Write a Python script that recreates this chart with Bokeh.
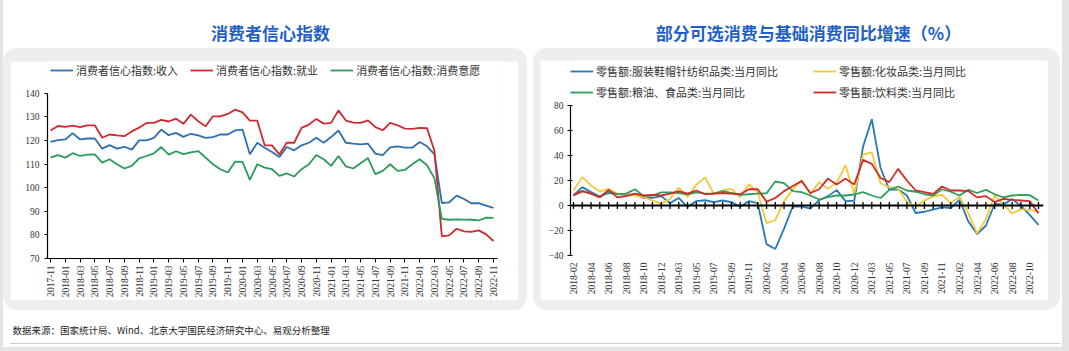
import math
from bokeh.plotting import figure
from bokeh.models import Range1d, Legend, LegendItem, Span, Spacer, FixedTicker
from bokeh.layouts import column, row
from bokeh.embed import file_html
from bokeh.resources import INLINE
from bokeh.core.properties import value

# ---------------- data: consumer confidence sub-indices ----------------
cc_months = ["2017-11", "2017-12",
             "2018-01", "2018-02", "2018-03", "2018-04", "2018-05", "2018-06",
             "2018-07", "2018-08", "2018-09", "2018-10", "2018-11", "2018-12",
             "2019-01", "2019-02", "2019-03", "2019-04", "2019-05", "2019-06",
             "2019-07", "2019-08", "2019-09", "2019-10", "2019-11", "2019-12",
             "2020-01", "2020-02", "2020-03", "2020-04", "2020-05", "2020-06",
             "2020-07", "2020-08", "2020-09", "2020-10", "2020-11", "2020-12",
             "2021-01", "2021-02", "2021-03", "2021-04", "2021-05", "2021-06",
             "2021-07", "2021-08", "2021-09", "2021-10", "2021-11", "2021-12",
             "2022-01", "2022-02", "2022-03", "2022-04", "2022-05", "2022-06",
             "2022-07", "2022-08", "2022-09", "2022-10", "2022-11"]
cc_income = [119.4, 120.1, 120.4, 123.1, 120.4, 120.8, 120.8, 116.5, 118.0, 116.5,
             117.3, 116.1, 120.0, 120.0, 121.1, 124.6, 122.2, 123.2, 121.5, 122.8,
             122.1, 121.1, 121.4, 122.5, 122.5, 124.2, 124.6, 114.1, 119.0, 116.9,
             115.1, 113.0, 117.2, 115.8, 117.9, 119.0, 121.1, 119.0, 121.4, 124.2,
             119.0, 118.6, 118.3, 118.6, 114.4, 113.8, 117.0, 117.5, 116.9, 116.9,
             119.3, 117.5, 114.1, 93.5, 93.8, 96.6, 95.2, 93.4, 93.4, 92.4, 91.4]
cc_employment = [124.2, 126.1, 125.7, 126.3, 125.6, 126.4, 126.4, 121.1, 122.5, 122.1,
                 121.8, 123.8, 125.4, 127.4, 127.4, 128.7, 128.0, 129.2, 127.0, 130.9,
                 128.1, 126.0, 130.2, 130.2, 131.2, 133.0, 131.9, 128.4, 128.4, 117.9,
                 117.9, 114.1, 119.0, 119.0, 125.3, 126.7, 129.1, 127.1, 127.4, 132.7,
                 128.4, 127.5, 127.4, 128.5, 125.6, 124.3, 127.4, 126.4, 125.0, 124.9,
                 125.3, 125.2, 115.5, 79.4, 79.8, 82.6, 81.5, 81.3, 81.9, 80.2, 77.4]
cc_willingness = [112.7, 113.8, 112.7, 114.6, 113.4, 114.0, 114.1, 110.6, 112.0, 109.9,
                  108.1, 109.2, 112.4, 113.4, 114.5, 117.2, 114.0, 115.4, 114.2, 114.9,
                  115.5, 112.7, 109.9, 107.8, 106.4, 111.0, 110.9, 103.3, 109.9, 108.5,
                  107.8, 105.0, 106.0, 104.7, 107.8, 109.9, 113.8, 112.0, 109.2, 113.4,
                  109.0, 108.1, 110.3, 112.5, 105.7, 107.1, 109.9, 107.1, 107.5, 109.9,
                  112.0, 109.5, 103.9, 86.8, 86.4, 86.6, 86.5, 86.4, 86.1, 87.3, 87.2]
cc_names = ["消费者信心指数:收入", "消费者信心指数:就业", "消费者信心指数:消费意愿"]
cc_yticks = [70, 80, 90, 100, 110, 120, 130, 140]

# ---------------- data: retail sales YoY (%) ----------------
rs_months = ["2018-02", "2018-03", "2018-04", "2018-05", "2018-06", "2018-07",
             "2018-08", "2018-09", "2018-10", "2018-11", "2018-12",
             "2019-02", "2019-03", "2019-04", "2019-05", "2019-06", "2019-07",
             "2019-08", "2019-09", "2019-10", "2019-11", "2019-12",
             "2020-02", "2020-03", "2020-04", "2020-05", "2020-06", "2020-07",
             "2020-08", "2020-09", "2020-10", "2020-11", "2020-12",
             "2021-02", "2021-03", "2021-04", "2021-05", "2021-06", "2021-07",
             "2021-08", "2021-09", "2021-10", "2021-11", "2021-12",
             "2022-02", "2022-03", "2022-04", "2022-05", "2022-06", "2022-07",
             "2022-08", "2022-09", "2022-10", "2022-11"]
rs_clothing = [8.0, 14.7, 10.7, 7.2, 10.0, 9.3, 8.5, 8.8, 6.1, 6.1, 7.5,
               1.9, 6.0, -1.1, 3.5, 4.2, 2.7, 4.0, 2.7, -1.0, 3.5, 1.8,
               -30.9, -34.8, -18.5, -0.6, -0.8, -2.5, 4.2, 7.5, 12.3, 3.5, 3.8,
               47.0, 69.0, 30.0, 12.5, 13.0, 8.0, -6.0, -5.0, -3.3, -1.5, -2.0,
               4.5, -12.7, -22.8, -16.2, 1.2, 0.8, 5.1, -0.3, -7.5, -15.6]
rs_cosmetics = [12.0, 22.7, 16.0, 11.2, 13.3, 9.3, 9.3, 8.0, 6.7, 4.0, 1.3,
                5.3, 14.4, 6.7, 16.7, 22.5, 9.3, 12.0, 13.3, 6.7, 17.0, 10.5,
                -14.1, -11.6, 3.5, 12.9, 20.3, 9.2, 18.7, 13.3, 18.3, 32.3, 9.2,
                40.7, 42.5, 17.8, 14.6, 13.5, 2.8, -0.6, 3.9, 7.3, 8.6, 1.9,
                7.0, -6.3, -22.3, -11.0, 8.1, 0.7, -6.4, -3.1, -3.7, -4.6]
rs_grain_food = [8.5, 11.5, 9.5, 7.0, 11.5, 9.0, 9.5, 13.0, 7.5, 8.0, 10.5,
                 10.5, 10.0, 9.0, 10.5, 9.5, 9.5, 11.5, 10.0, 8.5, 9.0, 9.5,
                 9.7, 19.2, 17.9, 11.5, 10.7, 8.0, 4.8, 6.7, 8.0, 8.0, 8.8,
                 10.7, 8.0, 6.0, 12.5, 15.2, 12.0, 11.0, 9.0, 8.0, 13.0, 11.0,
                 8.0, 12.5, 10.0, 12.5, 9.0, 6.5, 8.0, 8.5, 8.3, 4.0]
rs_beverage = [8.0, 11.5, 9.5, 6.5, 12.5, 6.5, 7.5, 9.5, 8.0, 8.5, 8.0,
               9.5, 11.5, 9.5, 12.0, 9.0, 9.5, 10.0, 9.5, 9.0, 13.0, 13.0,
               3.1, 6.0, 11.5, 15.6, 19.5, 10.0, 13.0, 21.5, 16.8, 21.5, 16.8,
               36.5, 33.3, 22.0, 18.7, 29.3, 20.0, 12.0, 10.7, 9.3, 15.2, 12.0,
               12.0, 11.5, 6.5, 7.5, 2.7, 5.3, 4.5, 4.0, 3.5, -6.2]
rs_names = ["零售额:服装鞋帽针纺织品类:当月同比", "零售额:化妆品类:当月同比",
            "零售额:粮油、食品类:当月同比", "零售额:饮料类:当月同比"]
rs_yticks = [-40, -20, 0, 20, 40, 60, 80]

titles = ["消费者信心指数", "部分可选消费与基础消费同比增速（%）"]
source_note = "数据来源：国家统计局、Wind、北京大学国民经济研究中心、易观分析整理"

# ---------------- styles ----------------
CJK = "Noto Sans CJK SC"
SERIF = "Liberation Serif"
TITLE_BLUE = "#1f5fc8"
PANEL_GREY = "#eeeeee"
cc_colors = ["#2f6fae", "#cc2a30", "#2b9b5b"]
rs_colors = ["#2878b5", "#f2c93a", "#2ea05a", "#d42a26"]


def style_axes(p):
    for ax in (p.xaxis[0], p.yaxis[0]):
        ax.major_label_text_font = SERIF
        ax.major_label_text_font_size = "9.5px"
        ax.major_label_text_color = "#333333"
        ax.axis_line_color = "black"
        ax.axis_line_width = 1.2
        ax.major_tick_line_color = "black"
        ax.minor_tick_line_color = None
    p.xgrid.visible = False
    p.ygrid.visible = False


def make_legend(items, loc):
    return Legend(items=items, orientation="horizontal", location=loc,
                  border_line_color=None, background_fill_alpha=0,
                  padding=0, margin=0, spacing=12, glyph_width=23,
                  glyph_height=12, label_height=14, label_standoff=3,
                  label_text_font=CJK, label_text_font_size="11px",
                  label_text_color="#333333")


# ---------------- left chart ----------------
# frame extends to the top of the figure so the legend sits inside it;
# the axis itself is bounded to the 70-140 scale
cc_idx = list(range(len(cc_months)))
pL = figure(width=508, height=239, output_backend="svg", toolbar_location=None,
            x_range=Range1d(-0.41, 60.54), y_range=Range1d(70, 153.4),
            min_border_left=37, min_border_right=21, min_border_top=0,
            min_border_bottom=40, outline_line_color=None,
            background_fill_color="white", border_fill_color="white")
rL = []
for ys, c in zip([cc_income, cc_employment, cc_willingness], cc_colors):
    rL.append(pL.line(cc_idx, ys, line_color=c, line_width=1.8))
style_axes(pL)
pL.xaxis.ticker = FixedTicker(ticks=cc_idx[::2])
pL.xaxis.major_label_overrides = {i: cc_months[i] for i in cc_idx[::2]}
pL.xaxis.major_label_orientation = math.pi / 2
pL.xaxis.major_tick_in = 0
pL.xaxis.major_tick_out = 4
pL.xaxis.major_label_standoff = 3
pL.yaxis.ticker = FixedTicker(ticks=cc_yticks)
pL.yaxis.bounds = (cc_yticks[0], cc_yticks[-1])
pL.yaxis.major_tick_in = 0
pL.yaxis.major_tick_out = 3
pL.yaxis.major_label_standoff = 5
pL.add_layout(make_legend([LegendItem(label=n, renderers=[r]) for n, r in zip(cc_names, rL)],
                          (3, 180)), "center")

# ---------------- right chart ----------------
rs_idx = list(range(len(rs_months)))
pR = figure(width=508, height=240, output_backend="svg", toolbar_location=None,
            x_range=Range1d(-0.34, 53.57), y_range=Range1d(-40, 116),
            min_border_left=30, min_border_right=5, min_border_top=0,
            min_border_bottom=45, outline_line_color=None,
            background_fill_color="white", border_fill_color="white")
rR = []
for ys, c in zip([rs_clothing, rs_cosmetics, rs_grain_food, rs_beverage], rs_colors):
    rR.append(pR.line(rs_idx, ys, line_color=c, line_width=1.8))
style_axes(pR)
pR.add_layout(Span(location=0, dimension="width", line_color="black", line_width=2))
pR.scatter(rs_idx, [0] * len(rs_idx), marker="dash", angle=math.pi / 2, size=7,
           line_color="black", line_width=1.3)
pR.xaxis.ticker = FixedTicker(ticks=rs_idx[::2])
pR.xaxis.major_label_overrides = {i: rs_months[i] for i in rs_idx[::2]}
pR.xaxis.major_label_orientation = math.pi / 2
pR.xaxis.axis_line_color = None
pR.xaxis.major_tick_line_color = None
pR.xaxis.major_tick_in = 0
pR.xaxis.major_tick_out = 0
pR.xaxis.major_label_standoff = 7
pR.yaxis.ticker = FixedTicker(ticks=rs_yticks)
pR.yaxis.bounds = (rs_yticks[0], rs_yticks[-1])
pR.yaxis.major_tick_in = 2
pR.yaxis.major_tick_out = 3
pR.yaxis.major_label_standoff = 4
legend_locs = [(0, 176), (243, 176), (0, 155), (243, 155)]
for n, r, loc in zip(rs_names, rR, legend_locs):
    pR.add_layout(make_legend([LegendItem(label=n, renderers=[r])], loc), "center")

# ---------------- title strip ----------------
def blank_fig(w, h):
    f = figure(width=w, height=h, output_backend="svg", toolbar_location=None,
               x_range=Range1d(0, w), y_range=Range1d(h, 0), min_border=0,
               outline_line_color=None, background_fill_color="white",
               border_fill_color="white")
    f.axis.visible = False
    f.xgrid.visible = False
    f.ygrid.visible = False
    return f

pT = blank_fig(1059, 48)
pT.text(x=[267, 805], y=[32, 32], text=titles, text_font=value(CJK),
        text_font_style="bold", text_font_size="17px", text_color=TITLE_BLUE,
        text_align="center", text_baseline="middle")

pF = blank_fig(1059, 37)
pF.text(x=[9], y=[19], text=[source_note], text_font=value(CJK),
        text_font_size="9.5px", text_color="#222222", text_align="left",
        text_baseline="middle")
pF.line(x=[7, 1057], y=[33, 33], line_color="#9a9a9a", line_width=1, line_dash="1 1")

# ---------------- layout ----------------
left_panel = column(Spacer(width=524, height=13),
                    row(Spacer(width=7, height=239), pL, Spacer(width=9, height=239)),
                    Spacer(width=524, height=10),
                    styles={"background-color": PANEL_GREY, "border-radius": "14px"})
right_panel = column(Spacer(width=527, height=12),
                     row(Spacer(width=7, height=240), pR, Spacer(width=12, height=240)),
                     Spacer(width=527, height=10),
                     styles={"background-color": PANEL_GREY, "border-radius": "14px"})
inner = column(pT,
               row(left_panel, Spacer(width=6, height=262), right_panel, Spacer(width=2, height=262)),
               pF, styles={"background-color": "white"})
page = column(row(Spacer(width=3, height=347), inner, Spacer(width=7, height=347)),
              Spacer(width=1069, height=4),
              styles={"background-color": "#e4e4e4"})

open("out.html", "w").write(file_html(page, INLINE))
